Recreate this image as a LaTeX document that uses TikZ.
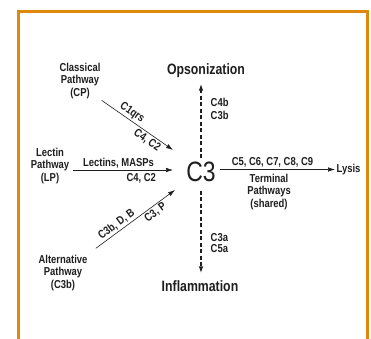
\documentclass[tikz,border=0pt]{standalone}
\usepackage{fontspec}
\setmainfont{Liberation Sans}[FakeStretch=0.82]
\usepackage{tikz}
\usetikzlibrary{calc, arrows.meta}
\tikzset{>={Latex[length=7pt,width=4.5pt]}}
\definecolor{frameorange}{RGB}{222,137,14}
\definecolor{inkgray}{RGB}{30,30,30}

\begin{document}
\begin{tikzpicture}[x=1pt, y=-1pt,
  pathway/.style={align=center, inner sep=1pt, text=inkgray, font=\bfseries\fontsize{11.5}{12.8}\selectfont},
  edgelbl/.style={inner sep=1.5pt, text=inkgray, font=\bfseries\fontsize{11.5}{12.8}\selectfont},
  outcome/.style={text=inkgray, font=\bfseries\fontsize{15}{18}\selectfont},
  flow/.style={->, semithick, draw=inkgray},
  dflow/.style={->, line width=1.4pt, dash pattern=on 4pt off 2.5pt, draw=inkgray}]
\useasboundingbox (0,0) rectangle (371,338);
% frame
\draw[frameorange, line width=2.6pt] (18.5,345) -- (18.5,11.7) -- (367.5,11.7) -- (367.5,345);

% centre and outcomes
\node[text=inkgray, font=\fontsize{28}{30}\selectfont] (c3) at (201,171.5) {C3};
\node[outcome] (ops) at (206,70.5) {Opsonization};
\node[outcome] (infl) at (200,286.5) {Inflammation};
\node[edgelbl, anchor=west] (lysis) at (335,169.5) {Lysis};

% the three pathways
\node[pathway] (cp) at (80,81) {Classical\\Pathway\\(CP)};
\node[pathway] (lp) at (50,166) {Lectin\\Pathway\\(LP)};
\node[pathway] (ap) at (63,273) {Alternative\\Pathway\\(C3b)};
\coordinate (cpend) at (173,150);
\coordinate (lpend) at (173,170);
\coordinate (apend) at (175,190);

\draw[flow] (cp.south east) -- node[edgelbl, sloped, above, pos=.37] (c1qrs) {C1qrs}
  node[edgelbl, sloped, below, pos=.69] (cpc4) {C4, C2} (cpend);
\draw[flow, shorten <=3pt] (lp.east |- lpend) -- node[edgelbl, above, pos=.47] (lectins) {Lectins, MASPs}
  node[edgelbl, below=2pt, pos=.69] (lpc4) {C4, C2} (lpend);
\draw[flow, shorten <=9pt] (ap.north east) -- node[edgelbl, sloped, above, pos=.37] (c3bdb) {C3b, D, B}
  node[edgelbl, sloped, below, pos=.73] (c3p) {C3, P} (apend);

% terminal pathway
\draw[flow, shorten <=1pt] (c3.east |- lysis.west) -- node[edgelbl, above, pos=.46] (c5c9) {C5, C6, C7, C8, C9}
  node[pathway, below=3pt, pos=.43] (term) {Terminal\\Pathways\\(shared)} (lysis.west);

% cleavage fragments
\draw[dflow, shorten >=2.5pt] (c3.north) -- (c3.north |- ops.south);
\draw[dflow, shorten <=6pt, shorten >=4pt] (c3.south) -- (c3.south |- infl.north);
\node[edgelbl, anchor=west, align=left, font=\bfseries\fontsize{11.5}{13}\selectfont] (c4b) at (209,109) {C4b\\C3b};
\node[edgelbl, anchor=west, align=left, font=\bfseries\fontsize{11.5}{11}\selectfont] (c3a) at (209,243) {C3a\\C5a};
\end{tikzpicture}
\end{document}
